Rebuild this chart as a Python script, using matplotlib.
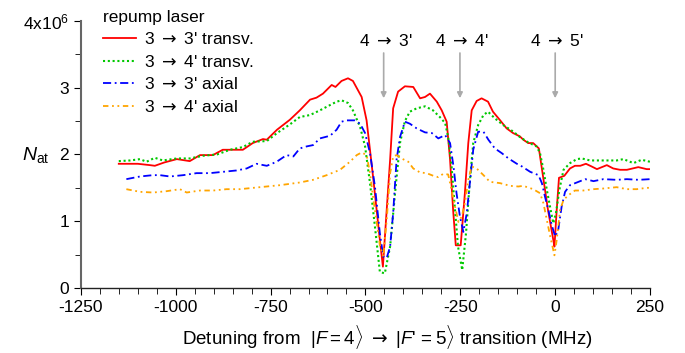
import matplotlib
matplotlib.use("Agg")
import matplotlib.pyplot as plt
from matplotlib.ticker import MultipleLocator, FixedLocator, FixedFormatter

plt.rcParams['font.family'] = ['Liberation Sans', 'DejaVu Sans']
plt.rcParams['mathtext.fontset'] = 'custom'
plt.rcParams['mathtext.rm'] = 'Liberation Sans'
plt.rcParams['mathtext.it'] = 'Liberation Sans:italic'
plt.rcParams['mathtext.sf'] = 'DejaVu Sans'
plt.rcParams['axes.unicode_minus'] = False
plt.rcParams['font.size'] = 12

# 3 -> 3' transverse (red)
red_x = [-1150, -1100, -1068, -1055, -1030, -997, -963, -936, -902, -876, -823, -797, -770, -760,
         -733, -699, -673, -646, -629, -612, -589, -579, -563, -546, -533, -510, -497, -480, -462,
         -454, -444, -435, -427, -414, -396, -374, -356, -343, -330, -312, -299, -286, -277, -269,
         -262, -249, -238, -229, -220, -207, -194, -177, -164, -145, -128, -111, -93, -84, -71, -58,
         -43, -32, -19, -5, -2, 4, 10, 24, 39, 52, 66, 81, 96, 110, 136, 153, 171, 189, 219, 241, 250]
red_y = [1.86, 1.86, 1.84, 1.83, 1.88, 1.93, 1.90, 1.99, 1.99, 2.07, 2.07, 2.17, 2.23, 2.22,
         2.37, 2.52, 2.66, 2.82, 2.85, 2.91, 3.04, 3.01, 3.10, 3.14, 3.10, 2.86, 2.51, 1.67, 0.72,
         0.32, 1.17, 1.92, 2.69, 2.94, 3.02, 3.01, 2.84, 2.86, 2.91, 2.79, 2.66, 2.49, 1.92, 1.17,
         0.64, 0.64, 1.42, 2.17, 2.66, 2.80, 2.84, 2.79, 2.64, 2.51, 2.39, 2.32, 2.27, 2.22, 2.17, 2.17,
         2.09, 1.67, 1.17, 0.72, 0.62, 1.17, 1.65, 1.68, 1.79, 1.83, 1.83, 1.86, 1.82, 1.78, 1.84,
         1.79, 1.77, 1.77, 1.81, 1.78, 1.78]

# 3 -> 4' transverse (green)
green_x = [-1150, -1120, -1094, -1077, -1055, -1034, -997, -963, -928, -891, -857, -823, -797, -760,
           -733, -699, -673, -646, -620, -593, -576, -563, -546, -533, -514, -501, -488, -475, -462,
           -449, -435, -422, -409, -396, -383, -365, -343, -322, -304, -290, -282, -273, -264, -256,
           -245, -235, -226, -216, -203, -189, -177, -159, -137, -110, -93, -71, -49, -40, -31, -22,
           -12, -5, 2, 11, 22, 39, 57, 70, 92, 127, 162, 180, 206, 228, 250]
green_y = [1.90, 1.91, 1.93, 1.89, 1.95, 1.91, 1.94, 1.94, 1.98, 2.00, 2.07, 2.11, 2.19, 2.20,
           2.32, 2.45, 2.56, 2.59, 2.66, 2.74, 2.79, 2.81, 2.77, 2.66, 2.41, 2.12, 1.57, 0.92, 0.24,
           0.22, 0.62, 1.42, 2.17, 2.50, 2.64, 2.69, 2.72, 2.66, 2.56, 2.47, 2.26, 1.82, 1.17, 0.62,
           0.27, 0.82, 1.52, 2.17, 2.44, 2.59, 2.64, 2.54, 2.44, 2.34, 2.26, 2.18, 2.12, 2.02, 1.77, 1.47,
           1.17, 0.97, 1.12, 1.47, 1.77, 1.87, 1.93, 1.94, 1.91, 1.91, 1.91, 1.93, 1.87, 1.92, 1.89]

# 3 -> 3' axial (blue)
blue_x = [-1130, -1094, -1060, -1042, -1015, -980, -945, -910, -875, -840, -813, -787, -760, -734,
          -708, -690, -673, -655, -638, -620, -593, -576, -563, -550, -528, -514, -501, -488, -475,
          -462, -453, -444, -435, -427, -418, -409, -396, -383, -365, -343, -325, -308, -290, -277,
          -268, -260, -251, -242, -233, -224, -216, -203, -189, -176, -159, -141, -123, -101, -93,
          -66, -44, -35, -27, -18, -9, 0, 8, 17, 26, 39, 57, 79, 101, 127, 162, 189, 220, 250]
blue_y = [1.63, 1.67, 1.69, 1.69, 1.67, 1.69, 1.72, 1.72, 1.74, 1.76, 1.79, 1.86, 1.83, 1.89,
          1.99, 1.97, 2.09, 2.12, 2.14, 2.24, 2.28, 2.37, 2.49, 2.51, 2.51, 2.46, 2.32, 2.02, 1.52,
          0.82, 0.47, 0.45, 0.62, 1.12, 1.92, 2.26, 2.49, 2.46, 2.39, 2.33, 2.32, 2.24, 2.29, 2.17,
          1.82, 1.42, 1.07, 0.84, 1.12, 1.62, 2.07, 2.34, 2.34, 2.22, 2.09, 2.02, 1.94, 1.86, 1.84,
          1.74, 1.69, 1.57, 1.37, 1.17, 0.94, 0.77, 0.87, 1.22, 1.44, 1.54, 1.58, 1.63, 1.60, 1.63,
          1.62, 1.63, 1.62, 1.63]

# 3 -> 4' axial (orange)
orange_x = [-1130, -1094, -1059, -1024, -989, -971, -936, -901, -866, -831, -778, -725, -673, -638,
            -602, -567, -541, -523, -510, -497, -488, -479, -470, -462, -453, -444, -435, -427, -418,
            -405, -387, -374, -356, -339, -321, -308, -295, -282, -273, -264, -255, -246, -238, -229,
            -220, -207, -189, -172, -145, -119, -97, -84, -58, -40, -31, -22, -13, -7, -2, 4, 13, 22,
            35, 52, 74, 101, 127, 162, 189, 215, 241, 250]
orange_y = [1.48, 1.44, 1.43, 1.45, 1.48, 1.43, 1.46, 1.46, 1.48, 1.48, 1.51, 1.54, 1.58, 1.62,
            1.69, 1.77, 1.89, 1.99, 2.03, 1.99, 1.72, 1.32, 0.97, 0.64, 0.47, 1.02, 1.72, 1.97, 1.99,
            1.94, 1.89, 1.79, 1.73, 1.72, 1.68, 1.66, 1.71, 1.70, 1.47, 1.22, 0.99, 1.07, 1.27, 1.62,
            1.82, 1.79, 1.69, 1.59, 1.57, 1.53, 1.52, 1.53, 1.48, 1.42, 1.27, 1.02, 0.77, 0.62, 0.49,
            0.72, 1.17, 1.32, 1.39, 1.46, 1.46, 1.48, 1.49, 1.51, 1.48, 1.48, 1.50, 1.50]

ARROW = r"$\mathsf{\rightarrow}$"
transitions = ["4 " + ARROW + " 3'", "4 " + ARROW + " 4'", "4 " + ARROW + " 5'"]
transition_x = [-452, -251, 0]

fig = plt.figure(figsize=(6.85, 3.53), dpi=100)
ax = fig.add_axes([0.118, 0.184, 0.831, 0.757])

ax.plot(red_x, red_y, color='#ff0000', lw=1.3, label="3 " + ARROW + " 3' transv.")
ax.plot(green_x, green_y, color='#00c800', lw=1.5, ls=(0, (1, 1.3)), label="3 " + ARROW + " 4' transv.")
ax.plot(blue_x, blue_y, color='#0000ff', lw=1.3, ls=(0, (4.5, 2, 1, 2)), label="3 " + ARROW + " 3' axial")
ax.plot(orange_x, orange_y, color='#ffa500', lw=1.3, ls=(0, (3, 2, 1, 2, 1, 2)), label="3 " + ARROW + " 4' axial")

for lab, xx in zip(transitions, transition_x):
    ax.annotate('', xy=(xx, 2.8), xytext=(xx, 3.56),
                arrowprops=dict(arrowstyle='-|>', color='#aaaaaa', lw=1.2, mutation_scale=8))
    ax.text(xx + 5, 3.58, lab, ha='center', va='bottom', fontsize=12.5)

ax.set_xlim(-1250, 250)
ax.set_ylim(0, 4)
ax.xaxis.set_major_locator(MultipleLocator(250))
ax.xaxis.set_minor_locator(MultipleLocator(50))
ax.yaxis.set_major_locator(FixedLocator([0, 1, 2, 3, 4]))
ax.yaxis.set_major_formatter(FixedFormatter(['0', '1', '2', '3', r'4x10$^{6}$']))
ax.yaxis.set_minor_locator(MultipleLocator(0.5))

for s in ['top', 'right']:
    ax.spines[s].set_visible(False)
ax.spines['left'].set_color('#666666')
ax.spines['left'].set_linewidth(1.5)
ax.spines['bottom'].set_color('#222222')
ax.spines['bottom'].set_linewidth(1.0)
ax.tick_params(which='both', direction='out', labelsize=12.5)
ax.tick_params(which='major', length=5)
ax.tick_params(which='minor', length=4)

ax.set_xlabel(r"Detuning from  $|F = 4\rangle$ " + ARROW + r" $|F$'$\, = 5\rangle$ transition (MHz)",
              fontsize=13.5, labelpad=6)
ax.xaxis.label.set_x(0.538)
fig.text(0.052, 0.56, r'$N_{\rm at}$', fontsize=14, ha='center', va='center')

leg = ax.legend(loc='upper left', bbox_to_anchor=(0.026, 1.068), frameon=False,
                title='repump laser', fontsize=12.5, handlelength=1.9, handletextpad=0.5,
                labelspacing=0.38, borderaxespad=0)
leg.get_title().set_fontsize(12.5)
leg._legend_box.align = 'left'

fig.savefig('out.png', dpi=100)
